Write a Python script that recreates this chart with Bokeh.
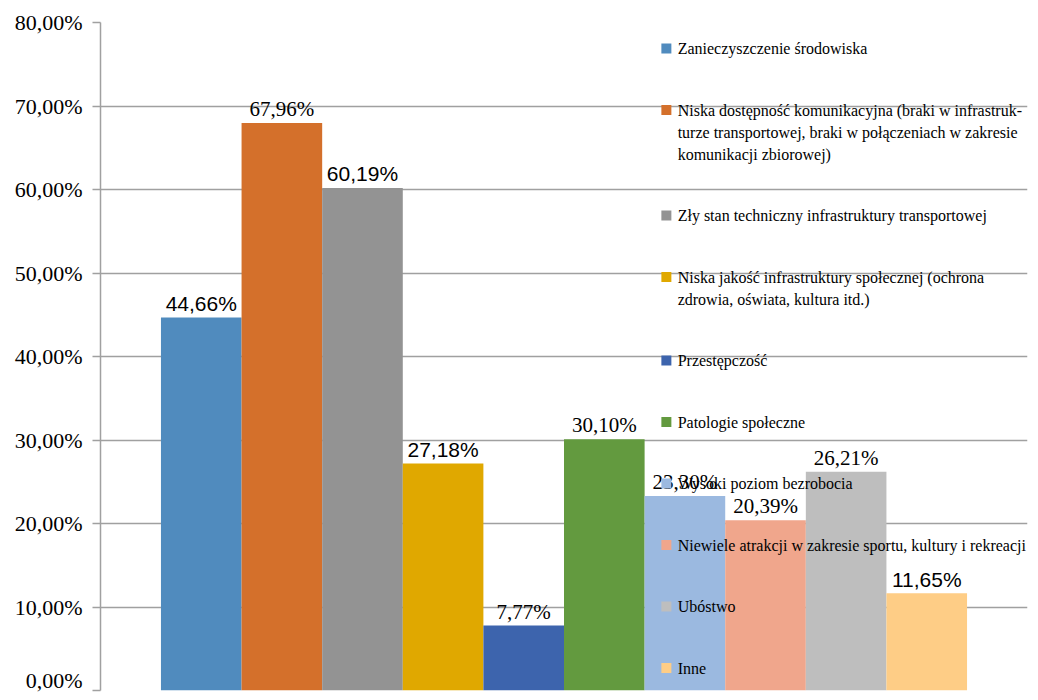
from bokeh.plotting import figure
from bokeh.models import Range1d, FixedTicker, ColumnDataSource
from bokeh.core.properties import value
from bokeh.embed import file_html
from bokeh.resources import INLINE

# ---------------- data ----------------
categories = [
    "Zanieczyszczenie środowiska",
    "Niska dostępność komunikacyjna (braki w infrastruk-\nturze transportowej, braki w połączeniach w zakresie\nkomunikacji zbiorowej)",
    "Zły stan techniczny infrastruktury transportowej",
    "Niska jakość infrastruktury społecznej (ochrona\nzdrowia, oświata, kultura itd.)",
    "Przestępczość",
    "Patologie społeczne",
    "Wysoki poziom bezrobocia",
    "Niewiele atrakcji w zakresie sportu, kultury i rekreacji",
    "Ubóstwo",
    "Inne",
]
values = [44.66, 67.96, 60.19, 27.18, 7.77, 30.10, 23.30, 20.39, 26.21, 11.65]
colors = ["#508BBE", "#D4702B", "#939393", "#E0A800", "#3D64AD",
          "#639A3F", "#9BB9E0", "#F0A68C", "#BEBEBE", "#FECD86"]
label_fonts = ["Liberation Sans", "Liberation Serif", "Liberation Sans", "Liberation Sans",
               "Liberation Serif", "Liberation Serif", "Liberation Serif", "Liberation Serif",
               "Liberation Serif", "Liberation Sans"]
y_ticks = [0, 10, 20, 30, 40, 50, 60, 70, 80]
y_tick_labels = ["0,00%", "10,00%", "20,00%", "30,00%", "40,00%",
                 "50,00%", "60,00%", "70,00%", "80,00%"]

# ---------------- figure ----------------
p = figure(width=1030, height=692, output_backend="svg", toolbar_location=None,
           x_range=Range1d(-0.75, 10.75), y_range=Range1d(0, 80),
           min_border_left=100, min_border_right=3, min_border_top=22, min_border_bottom=2)
p.outline_line_color = None
p.background_fill_color = "white"
p.border_fill_color = "white"

grid_gray = "#A0A0A0"
p.xaxis.visible = False
p.xgrid.visible = False
p.ygrid.grid_line_color = grid_gray
p.ygrid.grid_line_width = 1.5

p.yaxis.ticker = FixedTicker(ticks=y_ticks)
p.yaxis.major_label_overrides = {t: l for t, l in zip(y_ticks, y_tick_labels)}
p.yaxis.axis_line_color = grid_gray
p.yaxis.axis_line_width = 1.5
p.yaxis.major_tick_line_color = grid_gray
p.yaxis.major_tick_line_width = 1.5
p.yaxis.major_tick_out = 8
p.yaxis.major_tick_in = 0
p.yaxis.minor_tick_line_color = None
p.yaxis.major_label_standoff = 10
p.yaxis.major_label_text_font = "Liberation Serif"
p.yaxis.major_label_text_font_size = "22px"
p.yaxis.major_label_text_color = "black"

# ---------------- bars ----------------
xs = [i + 0.5 for i in range(len(values))]
labels = [("%.2f%%" % v).replace(".", ",") for v in values]
sizes = ["21px" for f in label_fonts]
src = ColumnDataSource(dict(x=xs, top=values, color=colors, label=labels,
                            font=label_fonts, size=sizes))
p.vbar(x="x", top="top", bottom=0, width=1.0, fill_color="color", line_color=None, source=src)

p.text(x="x", y="top", text="label", text_font="font", text_font_size="size",
       text_align="center", text_baseline="alphabetic", y_offset=-14,
       text_color="black", source=src)

# ---------------- legend (manual, drawn over the bars) ----------------
px_per_unit = 668 / 80.0
lg_x_sw, lg_x_tx = 6.27, 6.41
cur = 26.0
sw_x, sw_y, sw_c = [], [], []
tx_x, tx_y, tx_t = [], [], []
for cat, col in zip(categories, colors):
    lines = cat.split("\n")
    sw_x.append(lg_x_sw)
    sw_y.append(80 - cur / px_per_unit)
    sw_c.append(col)
    for k, ln in enumerate(lines):
        tx_x.append(lg_x_tx)
        tx_y.append(80 - (cur + 22 * k) / px_per_unit)
        tx_t.append(ln)
    cur += 61.5 + 22 * (len(lines) - 1)

p.scatter(x=sw_x, y=sw_y, marker="square", size=10, fill_color=sw_c, line_color=None)
p.text(x=tx_x, y=tx_y, text=tx_t, text_font=value("Liberation Serif"),
       text_font_size="16px", text_align="left", text_baseline="middle", text_color="black")

open("out.html", "w").write(file_html(p, INLINE))
